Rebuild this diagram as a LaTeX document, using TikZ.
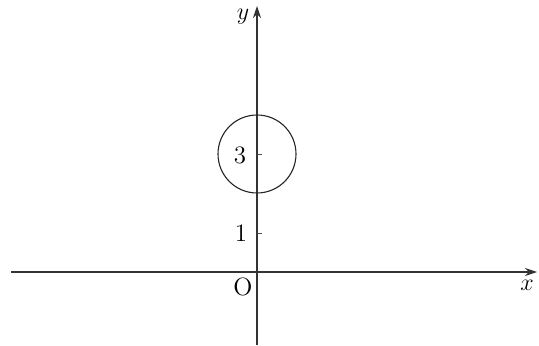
\documentclass[tikz,border=0pt]{standalone}
\usetikzlibrary{arrows.meta}
\begin{document}
\begin{tikzpicture}[x=0.5pt,y=-0.5pt,
  axis/.style={line width=0.55pt,draw=black!80,-{Stealth[length=6pt,width=4pt]}},
  lbl/.style={font=\fontsize{12.5}{14}\selectfont,inner sep=0pt},
  tick/.style={line width=0.4pt,draw=black!70}]
\useasboundingbox (0,0) rectangle (539,346);
\coordinate (xs) at (11,272);
\coordinate (xe) at (537,272);
\coordinate (ys) at (257,345);
\coordinate (ye) at (257,6);
\coordinate (o) at (257,272);
\coordinate (c) at (257,154);
\draw[axis] (xs) -- (xe);
\draw[axis] (ys) -- (ye);
\draw[line width=0.55pt,black!85] (c) circle[radius=39];
\coordinate (t3) at (257,154);
\coordinate (t1) at (257,233);
\draw[tick] (t3) -- ++(5,0);
\draw[tick] (t1) -- ++(5,0);
\node[lbl] (ly) at (243,17) {$y$};
\node[lbl] (lx) at (527,285) {$x$};
\node[lbl] (l3) at (240,155) {3};
\node[lbl] (l1) at (241,233) {1};
\node[lbl] (lo) at (243,287) {O};
\end{tikzpicture}
\end{document}
